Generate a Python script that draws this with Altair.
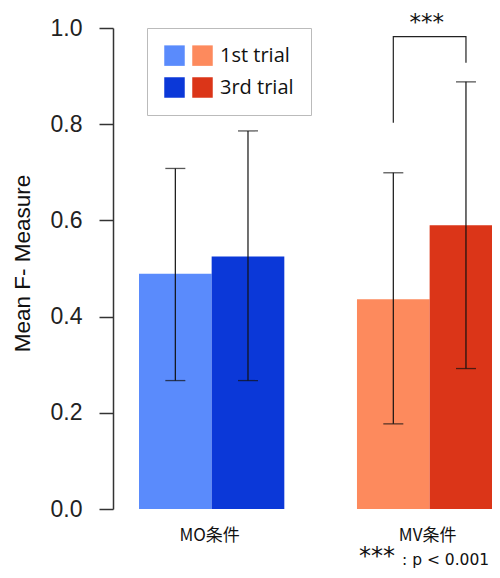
import altair as alt
import pandas as pd

# ---- data ----
groups = ["MO条件", "MO条件", "MV条件", "MV条件"]
trials = ["1st trial", "3rd trial", "1st trial", "3rd trial"]
keys = ["MO-1st", "MO-3rd", "MV-1st", "MV-3rd"]
means = [0.489, 0.525, 0.436, 0.590]
err_low = [0.267, 0.267, 0.177, 0.292]
err_high = [0.708, 0.786, 0.699, 0.888]

# significance bracket (MV condition, 1st vs 3rd trial)
br_group = ["MV条件", "MV条件", "MV条件", "MV条件"]
br_trial = ["1st trial", "1st trial", "3rd trial", "3rd trial"]
br_y = [0.803, 0.982, 0.982, 0.928]
br_order = [0, 1, 2, 3]

# legend is laid out column-major: column 1 = blue swatches, column 2 = orange + label
color_domain = ["MO-1st", "MO-3rd", "MV-1st", "MV-3rd"]
color_range = ["#5A8BFC", "#0B38D8", "#FD8A5D", "#DB3518"]

df = pd.DataFrame({"group": groups, "trial": trials, "key": keys,
                   "mean": means, "lo": err_low, "hi": err_high})
br = pd.DataFrame({"group": br_group, "trial": br_trial, "y": br_y, "o": br_order})
star = pd.DataFrame({"group": ["MV条件"], "y": [0.996], "t": ["***"]})

NB = "\u00a0"
label_expr = (f"datum.value == 'MV-1st' ? '{NB}{NB}1st trial' : "
              f"datum.value == 'MV-3rd' ? '{NB}{NB}3rd trial' : ''")

xscale = alt.Scale(domain=["MO条件", "MV条件"], range=[26, 389.3],
                   paddingInner=1 / 3, paddingOuter=0)
xaxis = alt.Axis(title=None, domain=False, ticks=False, labelAngle=0,
                 labelFont="Noto Sans CJK JP", labelFontSize=17,
                 labelColor="#111", labelPadding=18, labelOffset=-2)
X = alt.X("group:N", scale=xscale, axis=xaxis)
XO = alt.XOffset("trial:N", scale=alt.Scale(domain=["1st trial", "3rd trial"],
                                            paddingInner=0, paddingOuter=0))
yscale = alt.Scale(domain=[0, 1], nice=False, zero=True)
yaxis = alt.Axis(values=[0, 0.2, 0.4, 0.6, 0.8, 1.0], format=".1f", grid=False,
                 tickSize=14, labelPadding=17, labelFont="Liberation Sans",
                 labelFontSize=23, labelColor="#222", domainColor="#333",
                 tickColor="#333", domainWidth=1.5, tickWidth=1.5,
                 title="Mean F- Measure", titleFont="Liberation Sans",
                 titleFontSize=22.5, titleFontWeight="normal", titleColor="#111",
                 titleX=-84, titleY=235, titleBaseline="alphabetic",
                 titleAlign="center", titleAngle=-90)

bars = alt.Chart(df).mark_bar(clip=True).encode(
    x=X, xOffset=XO,
    y=alt.Y("mean:Q", scale=yscale, axis=yaxis),
    color=alt.Color("key:N", scale=alt.Scale(domain=color_domain, range=color_range),
                    legend=alt.Legend(orient="none", legendX=34, legendY=0,
                                      columns=2, title=None, symbolType="square",
                                      symbolSize=420, symbolStrokeWidth=0,
                                      symbolOpacity=1, labelExpr=label_expr,
                                      labelFont="Open Sans", labelFontSize=20,
                                      labelColor="#111", labelOffset=7,
                                      columnPadding=0, rowPadding=11,
                                      padding=17, strokeColor="#bbbbbb")),
)

rules = alt.Chart(df).mark_rule(color="#111", strokeWidth=1.2).encode(
    x=X, xOffset=XO, y="lo:Q", y2="hi:Q")
cap_lo = alt.Chart(df).mark_tick(color="#111", size=20, thickness=1.3).encode(
    x=X, xOffset=XO, y="lo:Q")
cap_hi = alt.Chart(df).mark_tick(color="#111", size=20, thickness=1.3).encode(
    x=X, xOffset=XO, y="hi:Q")

bracket = alt.Chart(br).mark_line(color="#222", strokeWidth=1.2, clip=False).encode(
    x=X, xOffset=XO, y="y:Q", order="o:Q")

stars = alt.Chart(star).mark_text(font="DejaVu Sans", fontSize=23, color="#111",
                                  baseline="alphabetic", dx=-3, clip=False).encode(
    x=X, y="y:Q", text="t:N")

foot_star = alt.Chart(star).mark_text(font="DejaVu Sans", fontSize=24, color="#111",
                                      align="left", baseline="alphabetic").encode(
    x=alt.value(246), y=alt.value(536), text=alt.value("***"))
foot_txt = alt.Chart(star).mark_text(font="DejaVu Sans", fontSize=15.5, color="#111",
                                     align="left", baseline="alphabetic").encode(
    x=alt.value(289), y=alt.value(537), text=alt.value(": p < 0.001"))

chart = alt.layer(bars, rules, cap_lo, cap_hi, bracket, stars,
                  foot_star, foot_txt).properties(
    width=379, height=481,
    autosize=alt.AutoSizeParams(type="none"),
    padding={"left": 105, "top": 20, "right": 0, "bottom": 61},
).configure_view(stroke=None)

chart.save("out.html", embed_options={"renderer": "svg", "actions": False})
